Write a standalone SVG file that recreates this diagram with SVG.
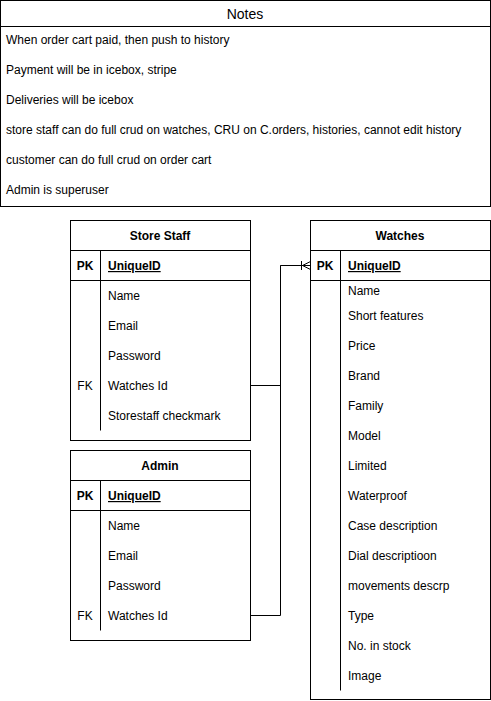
<svg xmlns="http://www.w3.org/2000/svg" width="491" height="701" viewBox="0 0 491 701">
<style>
  .box{fill:#fff;stroke:#000;stroke-width:1}
  .ln{stroke:#000;stroke-width:1;fill:none}
  text{font-family:"Liberation Sans",Arial,Helvetica,sans-serif;font-size:12px;fill:#000}
  .b{font-weight:bold}
  .c{text-anchor:middle}
  .u{text-decoration:underline}
  .t{font-size:14px}
</style>
<rect width="491" height="701" fill="#fff"/>
<g id="notes">
  <rect class="box" x="0.5" y="0.5" width="490" height="206"/>
  <line class="ln" x1="0.5" y1="26.5" x2="490.5" y2="26.5"/>
  <text class="c t" x="245" y="19">Notes</text>
  <text x="6" y="44">When order cart paid, then push to history</text>
  <text x="6" y="74">Payment will be in icebox, stripe</text>
  <text x="6" y="104">Deliveries will be icebox</text>
  <text x="6" y="134">store staff can do full crud on watches, CRU on C.orders, histories, cannot edit history</text>
  <text x="6" y="164">customer can do full crud on order cart</text>
  <text x="6" y="194">Admin is superuser</text>
</g>
<g id="storestaff">
  <rect class="box" x="70.5" y="220.5" width="180" height="220"/>
  <line class="ln" x1="70.5" y1="250.5" x2="250.5" y2="250.5"/>
  <line class="ln" x1="70.5" y1="280.5" x2="250.5" y2="280.5"/>
  <line class="ln" x1="100.5" y1="250.5" x2="100.5" y2="280.5"/>
  <line class="ln" x1="100.5" y1="280.5" x2="100.5" y2="430.5"/>
  <text class="b c" x="160" y="240">Store Staff</text>
  <text class="b c" x="85" y="270">PK</text>
  <text class="b u" x="108" y="270">UniqueID</text>
  <text x="108" y="300">Name</text>
  <text x="108" y="330">Email</text>
  <text x="108" y="360">Password</text>
  <text class="c" x="85" y="390">FK</text>
  <text x="108" y="390">Watches Id</text>
  <text x="108" y="420">Storestaff checkmark</text>
</g>
<g id="admin">
  <rect class="box" x="70.5" y="450.5" width="180" height="190"/>
  <line class="ln" x1="70.5" y1="480.5" x2="250.5" y2="480.5"/>
  <line class="ln" x1="70.5" y1="510.5" x2="250.5" y2="510.5"/>
  <line class="ln" x1="100.5" y1="480.5" x2="100.5" y2="510.5"/>
  <line class="ln" x1="100.5" y1="510.5" x2="100.5" y2="630.5"/>
  <text class="b c" x="160" y="470">Admin</text>
  <text class="b c" x="85" y="500">PK</text>
  <text class="b u" x="108" y="500">UniqueID</text>
  <text x="108" y="530">Name</text>
  <text x="108" y="560">Email</text>
  <text x="108" y="590">Password</text>
  <text class="c" x="85" y="620">FK</text>
  <text x="108" y="620">Watches Id</text>
</g>
<g id="watches">
  <rect class="box" x="310.5" y="220.5" width="180" height="479"/>
  <line class="ln" x1="310.5" y1="250.5" x2="490.5" y2="250.5"/>
  <line class="ln" x1="310.5" y1="280.5" x2="490.5" y2="280.5"/>
  <line class="ln" x1="340.5" y1="250.5" x2="340.5" y2="690.5"/>
  <text class="b c" x="400" y="240">Watches</text>
  <text class="b c" x="325" y="270">PK</text>
  <text class="b u" x="348" y="270">UniqueID</text>
  <text x="348" y="295">Name</text>
  <text x="348" y="320">Short features</text>
  <text x="348" y="350">Price</text>
  <text x="348" y="380">Brand</text>
  <text x="348" y="410">Family</text>
  <text x="348" y="440">Model</text>
  <text x="348" y="470">Limited</text>
  <text x="348" y="500">Waterproof</text>
  <text x="348" y="530">Case description</text>
  <text x="348" y="560">Dial descriptioon</text>
  <text x="348" y="590">movements descrp</text>
  <text x="348" y="620">Type</text>
  <text x="348" y="650">No. in stock</text>
  <text x="348" y="680">Image</text>
</g>
<g id="connectors">
  <path class="ln" d="M250.5 385.5 H280.5 V265.5 H310.5"/>
  <path class="ln" d="M250.5 615.5 H280.5 V265.5"/>
  <path class="ln" d="M301.5 261 V270"/>
  <path class="ln" d="M310.5 261.5 L302.5 265.5 L310.5 269.5"/>
</g>
</svg>
